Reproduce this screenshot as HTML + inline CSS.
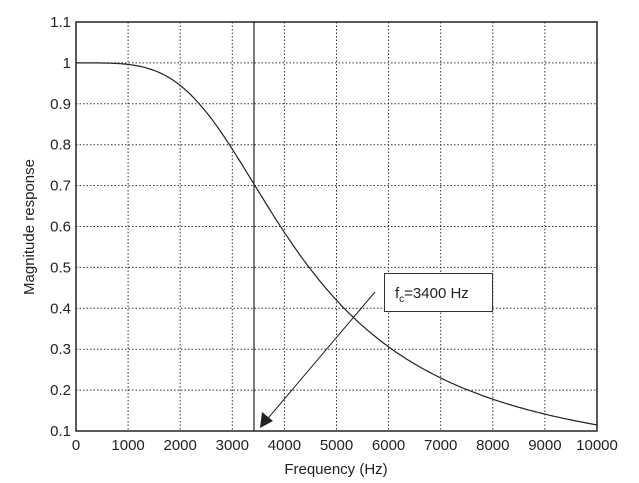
<!DOCTYPE html>
<html><head><meta charset="utf-8"><style>body{margin:0;background:#fff}svg{display:block}text{font-family:"Liberation Sans",sans-serif;fill:#222}</style></head>
<body>
<svg id="s" width="639" height="483" xmlns="http://www.w3.org/2000/svg">
<rect x="0" y="0" width="639" height="483" fill="#fff"/>
<g id="grid" stroke="#333" stroke-width="1" stroke-dasharray="1.5,2"></g>
<path id="curve" fill="none" stroke="#222" stroke-width="1.2"/>
<line x1="254" y1="22" x2="254" y2="431" stroke="#222" stroke-width="1.2"/>
<rect x="76" y="22" width="521" height="409" fill="none" stroke="#222" stroke-width="1.5"/>
<g id="lab" font-size="15"></g>
<rect x="384.5" y="273.5" width="108" height="38" fill="#fff" stroke="#333" stroke-width="1"/>
<text x="395" y="298" font-size="15">f<tspan font-size="10" dy="4">c</tspan><tspan dy="-4">=3400 Hz</tspan></text>
<line x1="375" y1="292" x2="264" y2="423" stroke="#222" stroke-width="1"/>
<polygon points="260,428 262,412 273,421" fill="#222"/>
<text x="336" y="474" font-size="15" text-anchor="middle">Frequency (Hz)</text>
<text transform="translate(34,227) rotate(-90)" font-size="15" text-anchor="middle">Magnitude response</text>
</svg>
<script>
var X=function(f){return 76+f/10000*521},Y=function(v){return 431-(v-0.1)/1.0*409};
var g=document.getElementById('grid'),l=document.getElementById('lab'),h='';
var gh='';
for(var i=1;i<10;i++){var x=X(i*1000);gh+='<line x1="'+x+'" y1="22" x2="'+x+'" y2="431"/>';}
for(var j=1;j<10;j++){var y=Y(0.1+j*0.1);gh+='<line x1="76" y1="'+y+'" x2="597" y2="'+y+'"/>';}
g.innerHTML=gh;
for(var i=0;i<=10;i++){h+='<text x="'+X(i*1000)+'" y="450" text-anchor="middle">'+(i*1000)+'</text>';}
var yl=['0.1','0.2','0.3','0.4','0.5','0.6','0.7','0.8','0.9','1','1.1'];
for(var j=0;j<=10;j++){h+='<text x="71" y="'+(Y(0.1+j*0.1)+5)+'" text-anchor="end">'+yl[j]+'</text>';}
l.innerHTML=h;
var d='';for(var f=0;f<=10000;f+=50){var r=f/3400,v=1/Math.sqrt(1+r*r*r*r);d+=(f?'L':'M')+X(f).toFixed(1)+','+Y(v).toFixed(1);}
document.getElementById('curve').setAttribute('d',d);
</script>
</body></html>
